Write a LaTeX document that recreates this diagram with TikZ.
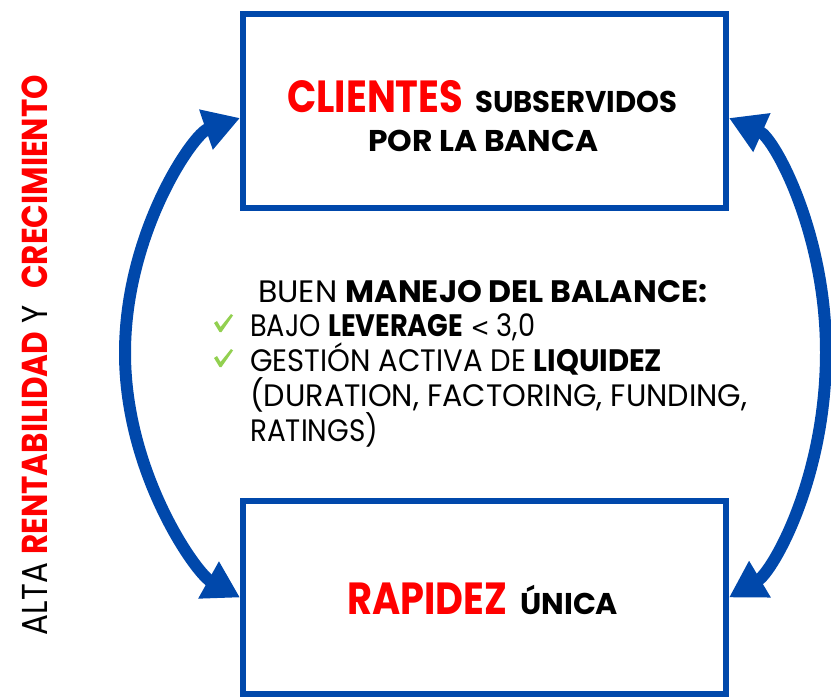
\documentclass[tikz,border=0pt]{standalone}
\usepackage{fontspec}
\usepackage{graphicx}
\setmainfont{Poppins}
\newfontfamily\symfont{DejaVu Sans}
\usetikzlibrary{arrows.meta,shadows}
\definecolor{bblue}{RGB}{0,72,171}
\definecolor{bred}{RGB}{255,0,0}
\definecolor{cgreen}{RGB}{146,208,80}
\newcommand\fitw[2]{\resizebox{#1}{\height}{#2}}
\tikzset{
  box/.style={draw=bblue, line width=6pt, fill=white, rectangle, inner sep=0pt,
    drop shadow={shadow xshift=2pt, shadow yshift=-2pt, opacity=0.35, fill=gray}},
  bigtxt/.style={inner sep=0pt, anchor=base west, font=\bfseries\fontsize{45pt}{50pt}\selectfont, text=bred},
  medtxt/.style={inner sep=0pt, anchor=base west, font=\bfseries\fontsize{30pt}{36pt}\selectfont, text=black},
  bodytxt/.style={inner sep=0pt, anchor=base west, font=\fontsize{31pt}{36pt}\selectfont, text=black},
  chkmark/.style={fill=cgreen, draw=none},
  cyc/.style={draw=bblue, line width=12pt, {Triangle[length=36pt,width=40pt]}-{Triangle[length=36pt,width=40pt]}}
}
\begin{document}
\begin{tikzpicture}[x=1pt,y=-1pt]
\useasboundingbox (0,0) rectangle (831,698);
\fill[white] (0,0) rectangle (831,698);
% boxes
\node[box, minimum width=483pt, minimum height=194pt] (top) at (484.5,111) {};
\node[box, minimum width=483pt, minimum height=193pt] (bot) at (484.5,597.5) {};
% top text
\node[bigtxt] (cli) at (287,113) {\fitw{176pt}{CLIENTES}};
\node[medtxt] (sub) at (475,113) {\fitw{202pt}{SUBSERVIDOS}};
\node[medtxt] (por) at (368,152) {\fitw{230pt}{POR LA BANCA}};
% bottom text
\node[bigtxt] (rap) at (347,614) {\fitw{160pt}{RAPIDEZ}};
\node[medtxt] (uni) at (520,614) {\fitw{98pt}{ÚNICA}};
% center text
\node[bodytxt] (l1) at (258,302) {\fitw{449pt}{BUEN \textbf{MANEJO DEL BALANCE:}}};
\node[bodytxt] (l2) at (250,336) {\fitw{285pt}{BAJO \textbf{LEVERAGE} {\symfont\fontsize{26pt}{30pt}\selectfont<} 3,0}};
\node[bodytxt] (l3) at (250,371) {\fitw{412pt}{GESTIÓN ACTIVA DE \textbf{LIQUIDEZ}}};
\node[bodytxt] (l4) at (250,406) {\fitw{497pt}{(DURATION, FACTORING, FUNDING,}};
\node[bodytxt] (l5) at (250,441) {\fitw{128pt}{RATINGS)}};
% check marks
\foreach \dy in {0,35}{
  \fill[chkmark, yshift=-\dy pt] (214,323) -- (217,321) -- (220.5,327) -- (231,314) -- (233,315.5) -- (221.5,332) -- (219.5,332) -- cycle;
}
% side text
\node[inner sep=0pt, anchor=base, rotate=90, font=\fontsize{36pt}{40pt}\selectfont] (side) at (48,355)
  {\fitw{560pt}{ALTA \textcolor{bred}{\textbf{RENTABILIDAD}} Y \ \textcolor{bred}{\textbf{CRECIMIENTO}}}};
% cycle arrows
\draw[cyc] ([yshift=-7pt]top.west) .. controls (193,134) and (125,233) .. (125,353)
  .. controls (125,473) and (196,573) .. (bot.west);
\draw[cyc] ([yshift=-7pt]top.east) .. controls (774,138) and (826,232) .. (826,352)
  .. controls (826,480) and (772,572) .. (bot.east);
\end{tikzpicture}
\end{document}
